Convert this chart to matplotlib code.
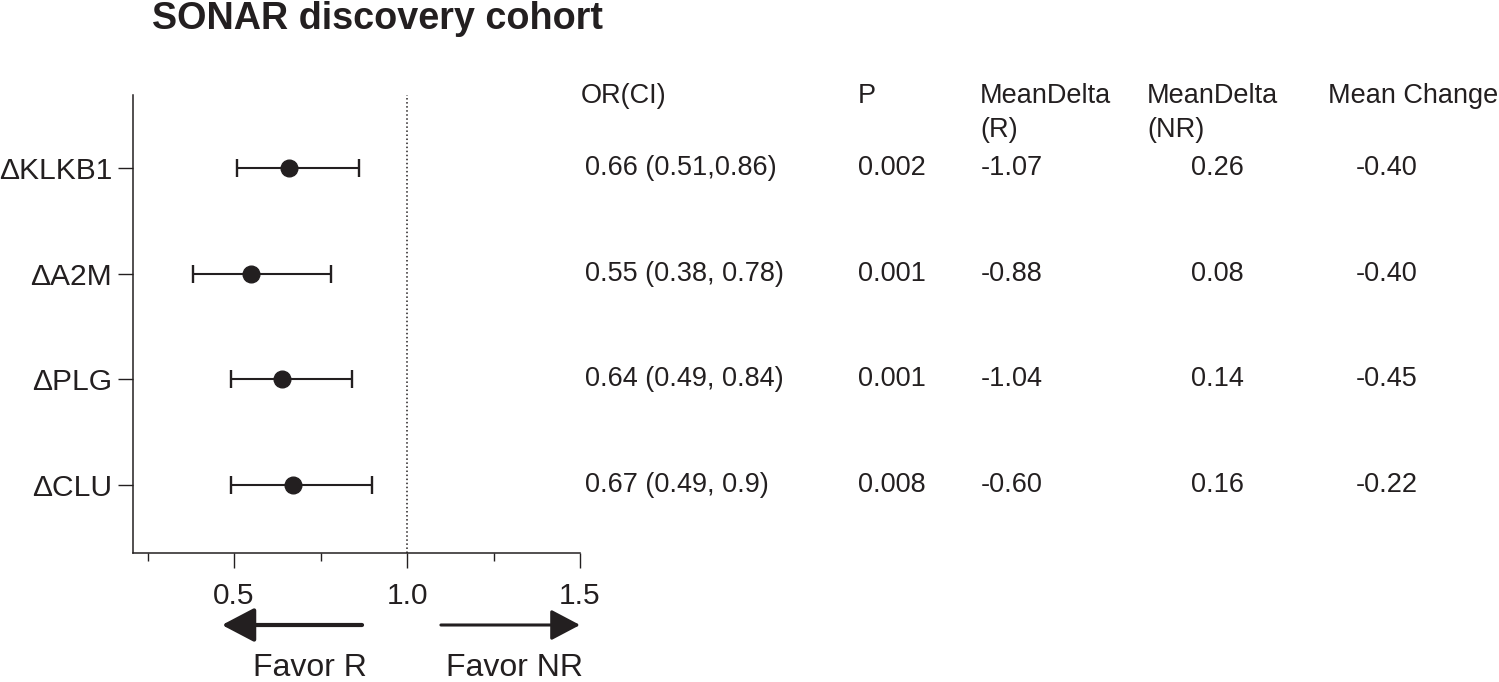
import matplotlib
matplotlib.use("Agg")
import matplotlib.pyplot as plt
from matplotlib import transforms

plt.rcParams['font.family'] = ['Liberation Sans', 'DejaVu Sans']

# ---- data ----
markers = ["ΔKLKB1", "ΔA2M", "ΔPLG", "ΔCLU"]
odds_ratio = [0.66, 0.55, 0.64, 0.67]
ci_low = [0.51, 0.38, 0.49, 0.49]
ci_high = [0.86, 0.78, 0.84, 0.90]
or_ci_text = ["0.66 (0.51,0.86)", "0.55 (0.38, 0.78)", "0.64 (0.49, 0.84)", "0.67 (0.49, 0.9)"]
p_text = ["0.002", "0.001", "0.001", "0.008"]
mean_delta_r = ["-1.07", "-0.88", "-1.04", "-0.60"]
mean_delta_nr = ["0.26", "0.08", "0.14", "0.16"]
mean_change = ["-0.40", "-0.40", "-0.45", "-0.22"]
headers = ["OR(CI)", "P", "MeanDelta\n(R)", "MeanDelta\n(NR)", "Mean Change"]
x_major = [0.5, 1.0, 1.5]
x_minor = [0.25, 0.75, 1.25]

INK = '#231f20'
W, H = 1499, 682
fig = plt.figure(figsize=(W / 100, H / 100), dpi=100)

def fx(px):
    return px / W

def fy(py):
    return 1 - py / H

ax = fig.add_axes([fx(133), fy(553), fx(580) - fx(133), fy(95) - fy(553)])

n = len(markers)
ypos = list(range(n, 0, -1))
xerr = [[o - l for o, l in zip(odds_ratio, ci_low)],
        [h - o for o, h in zip(odds_ratio, ci_high)]]
ax.errorbar(odds_ratio, ypos, xerr=xerr, fmt='o', color=INK, ecolor=INK,
            markersize=12, elinewidth=1.5, capsize=6.4, capthick=1.7, zorder=3)
ax.axvline(1.0, color=INK, linestyle=':', linewidth=1.1)

ax.set_xlim(0.208, 1.5)
ax.set_ylim(0.357, 4.69)
ax.set_yticks(ypos)
ax.set_yticklabels(markers, fontsize=21.6, color=INK)
ax.set_xticks(x_major)
ax.set_xticklabels([f"{v:.1f}" for v in x_major], fontsize=21.5, color=INK)
ax.set_xticks(x_minor, minor=True)
ax.tick_params(axis='x', which='major', direction='out', length=11, width=1, pad=10, color=INK)
ax.tick_params(axis='x', which='minor', direction='out', length=6, width=1, color=INK)
ax.tick_params(axis='y', which='major', direction='out', length=11, width=1, pad=4, color=INK)
for s in ['top', 'right']:
    ax.spines[s].set_visible(False)
for s in ['left', 'bottom']:
    ax.spines[s].set_linewidth(1.1)
    ax.spines[s].set_color(INK)

# arrows below the axis
btrans = transforms.blended_transform_factory(ax.transData, fig.transFigure)
ax.annotate('', xy=(0.465, fy(625)), xytext=(0.87, fy(625)), xycoords=btrans,
            textcoords=btrans, annotation_clip=False,
            arrowprops=dict(arrowstyle='-|>,head_length=2.0,head_width=1.05',
                            lw=3, color=INK, shrinkA=0, shrinkB=0))
ax.annotate('', xy=(1.5, fy(625)), xytext=(1.098, fy(625)), xycoords=btrans,
            textcoords=btrans, annotation_clip=False,
            arrowprops=dict(arrowstyle='-|>,head_length=1.8,head_width=0.95',
                            lw=2.2, color=INK, shrinkA=0, shrinkB=0))
fig.text(fx(310), fy(668), "Favor R", fontsize=23, color=INK, ha='center', va='center')
fig.text(fx(514), fy(668), "Favor NR", fontsize=23, color=INK, ha='center', va='center')

# title
fig.text(fx(152), fy(19), "SONAR discovery cohort", fontsize=27.2, fontweight='bold',
         color=INK, ha='left', va='center')

# table headers
header_x = [581, 858, 980, 1147, 1328]
for hx, h in zip(header_x, headers):
    fig.text(fx(hx), fy(83), h, fontsize=19.5, color=INK, ha='left', va='top',
             linespacing=1.38)

# table rows
rtrans = transforms.blended_transform_factory(fig.transFigure, ax.transData)
FS = 19.5
for i, y in enumerate(ypos):
    ax.text(fx(585), y, or_ci_text[i], transform=rtrans, fontsize=FS, color=INK,
            ha='left', va='center')
    ax.text(fx(858), y, p_text[i], transform=rtrans, fontsize=FS, color=INK,
            ha='left', va='center')
    ax.text(fx(1012), y, mean_delta_r[i], transform=rtrans, fontsize=FS, color=INK,
            ha='center', va='center')
    ax.text(fx(1217), y, mean_delta_nr[i], transform=rtrans, fontsize=FS, color=INK,
            ha='center', va='center')
    ax.text(fx(1387), y, mean_change[i], transform=rtrans, fontsize=FS, color=INK,
            ha='center', va='center')

fig.savefig("out.png", dpi=100)
